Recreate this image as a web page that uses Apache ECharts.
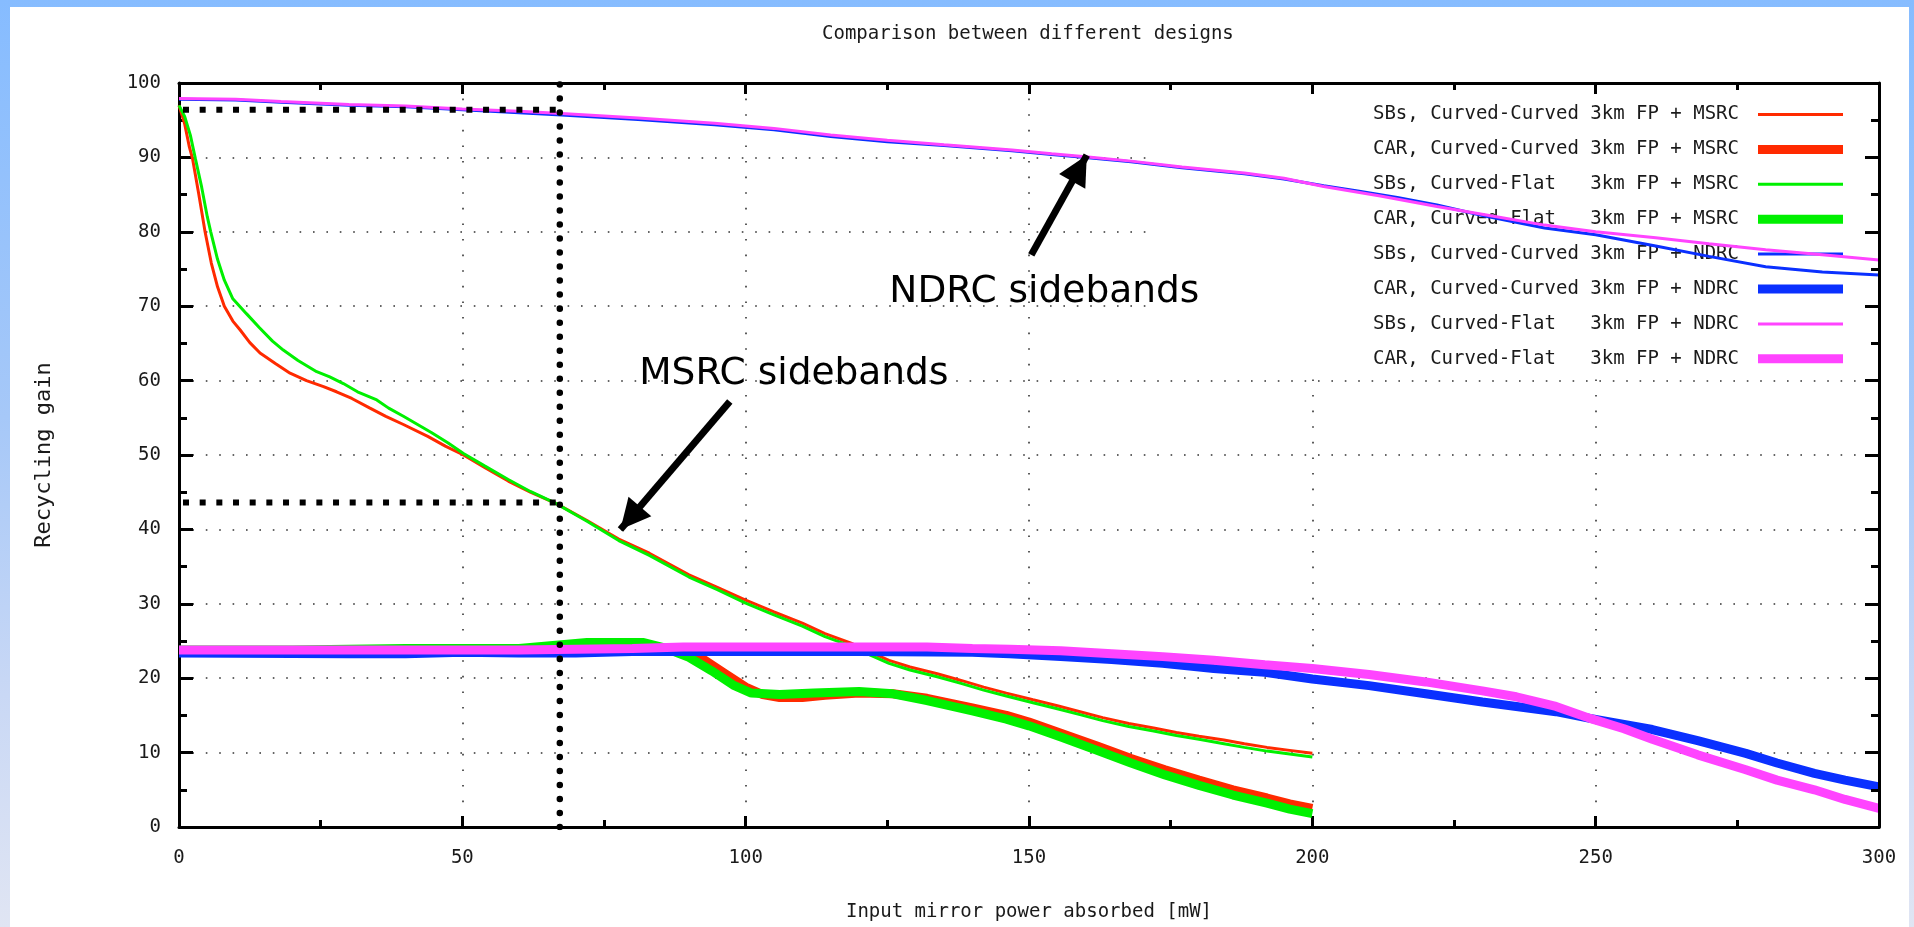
<!DOCTYPE html>
<html>
<head>
<meta charset="utf-8">
<script src="https://cdn.jsdelivr.net/npm/echarts@6/dist/echarts.min.js"></script>
<style>
html,body{margin:0;padding:0;width:1914px;height:927px;overflow:hidden;}
#bg{position:absolute;left:0;top:0;width:1914px;height:927px;background:linear-gradient(to bottom,#86bcff 0%,#a6c8f8 45%,#c9d8f5 75%,#e0e5f3 100%);}
#paper{position:absolute;left:10px;top:7px;right:5px;bottom:0;background:#fff;}
#chart{position:absolute;left:0;top:0;width:1914px;height:927px;}
</style>
</head>
<body>
<div id="bg"></div>
<div id="paper"></div>
<div id="chart"></div>
<script>
// ---------- data ----------
const titleText = 'Comparison between different designs';
const xName = 'Input mirror power absorbed [mW]';
const yName = 'Recycling gain';

const seriesNames = [
  'SBs, Curved-Curved 3km FP + MSRC',
  'CAR, Curved-Curved 3km FP + MSRC',
  'SBs, Curved-Flat   3km FP + MSRC',
  'CAR, Curved-Flat   3km FP + MSRC',
  'SBs, Curved-Curved 3km FP + NDRC',
  'CAR, Curved-Curved 3km FP + NDRC',
  'SBs, Curved-Flat   3km FP + NDRC',
  'CAR, Curved-Flat   3km FP + NDRC'
];
const seriesColors = ['#ff2a00','#ff2a00','#00f000','#00f000','#0a30ff','#0a30ff','#ff44ff','#ff44ff'];
const seriesThick = [false,true,false,true,false,true,false,true];

const sbsCurvedCurvedMsrc = [[0,97.0],[1,94.5],[1.8,91.5],[2.4,89.8],[3.5,85.0],[4.6,80.0],[5.7,75.8],[6.8,72.6],[8.0,70.0],[9.5,68.0],[10.8,66.8],[12.5,65.1],[14.3,63.7],[17,62.3],[19.6,61.0],[22.5,60.0],[25.5,59.2],[27.8,58.5],[30.5,57.6],[33.7,56.3],[36.5,55.2],[39.6,54.1],[43.9,52.5],[47,51.2],[50.2,50.0],[54,48.3],[58.1,46.5],[62,45.0],[66.5,43.5],[72,41.2],[77.6,38.7],[83,36.8],[90,33.9],[95,32.2],[100,30.5],[105,28.9],[110,27.4],[114,26.0],[118.6,24.7],[122,23.5],[125.3,22.4],[129,21.5],[133.8,20.6],[138,19.7],[142,18.8],[146,18.0],[150.7,17.1],[155,16.3],[159,15.5],[163,14.7],[167.6,13.9],[172,13.3],[176,12.7],[180,12.2],[184.4,11.7],[188,11.2],[192,10.7],[196,10.3],[200,9.9]];
const carCurvedCurvedMsrc = [[0,23.6],[20,23.6],[40,23.8],[60,24.0],[80,24.0],[88,23.8],[92,22.8],[96,20.8],[100,18.8],[103,17.8],[106,17.4],[110,17.4],[114,17.7],[120,18.0],[126,17.9],[132,17.3],[140,16.0],[146,15.0],[150,14.1],[156,12.5],[162,10.9],[168,9.2],[174,7.7],[180,6.3],[186,5.0],[192,3.9],[196,3.1],[200,2.5]];
const sbsCurvedFlatMsrc = [[0,97.0],[1,95.5],[2,93.0],[2.9,89.8],[4.0,86.0],[5.0,82.0],[5.6,80.0],[6.8,76.3],[8.0,73.5],[9.5,71.0],[11.9,69.0],[14.2,67.1],[16.5,65.3],[18.4,64.1],[21,62.7],[24.3,61.2],[26.6,60.5],[29,59.6],[31.5,58.5],[34.9,57.4],[37,56.3],[39.6,55.2],[44.6,53.0],[47.5,51.6],[50.2,50.2],[54,48.5],[58.1,46.7],[62,45.1],[66.5,43.5],[72,41.1],[77.6,38.5],[83,36.5],[90,33.6],[95,31.9],[100,30.1],[105,28.5],[110,27.0],[114,25.6],[118.6,24.3],[122,23.1],[125.3,22.0],[129,21.1],[133.8,20.2],[138,19.3],[142,18.4],[146,17.6],[150.7,16.7],[155,15.9],[159,15.1],[163,14.3],[167.6,13.5],[172,12.9],[176,12.3],[180,11.8],[184.4,11.2],[188,10.7],[192,10.2],[196,9.8],[200,9.4]];
const carCurvedFlatMsrc = [[0,23.8],[20,23.8],[40,24.0],[60,24.0],[72,24.8],[82,24.8],[86,24.0],[90,22.8],[94,21.0],[98,19.0],[101,18.0],[106,17.8],[112,18.0],[120,18.2],[126,17.9],[132,17.0],[140,15.6],[146,14.5],[150,13.6],[156,12.0],[162,10.3],[168,8.6],[174,7.0],[180,5.6],[186,4.3],[192,3.2],[196,2.4],[200,1.8]];
const sbsCurvedCurvedNdrc = [[0,97.8],[10,97.7],[18,97.4],[30,97.0],[40,96.8],[50,96.4],[60,96.0],[67.5,95.7],[81,95.1],[94.5,94.4],[105,93.7],[115,92.8],[125,92.1],[135,91.6],[147,90.9],[154,90.4],[160,90.0],[168,89.4],[177,88.6],[188,87.8],[195,87.1],[202,86.2],[208,85.5],[215,84.6],[222,83.6],[230,82.2],[241,80.5],[250,79.6],[260.6,78.1],[270,76.7],[280,75.3],[290,74.6],[300,74.2]];
const carCurvedCurvedNdrc = [[0,23.4],[30,23.3],[40,23.3],[50,23.5],[60,23.4],[70,23.4],[80,23.6],[100,23.6],[120,23.6],[140,23.5],[146.6,23.3],[155.6,22.9],[164.6,22.5],[173.6,22.0],[182.6,21.3],[191.6,20.8],[200,19.9],[210,19.0],[220,17.9],[230,16.8],[236,16.2],[243,15.5],[249,14.6],[255,13.8],[260,13.1],[268,11.6],[276.5,9.9],[282,8.6],[288.6,7.2],[294,6.3],[300,5.4]];
const sbsCurvedFlatNdrc = [[0,97.9],[10,97.8],[18,97.5],[30,97.1],[40,96.9],[50,96.5],[60,96.2],[67.5,95.9],[81,95.3],[94.5,94.6],[105,93.9],[115,93.0],[125,92.3],[135,91.7],[147,91.0],[154,90.5],[160,90.1],[168,89.5],[177,88.7],[188,87.9],[195,87.2],[202,86.1],[212,84.8],[222,83.4],[232,82.1],[241,80.9],[250,80.0],[260.6,79.2],[270,78.4],[280,77.6],[290,76.9],[300,76.2]];
const carCurvedFlatNdrc = [[0,23.8],[20,23.8],[40,23.8],[60,23.8],[80,24.0],[89,24.2],[100,24.2],[120,24.2],[132,24.2],[140,24.0],[146.6,23.9],[155.6,23.7],[164.6,23.3],[173.6,22.9],[182.6,22.4],[191.6,21.8],[200,21.3],[210,20.5],[220,19.5],[230,18.3],[236,17.5],[243,16.2],[249,14.6],[255,13.2],[260,11.8],[268,9.7],[276.5,7.7],[282,6.3],[288.6,5.0],[294,3.7],[300,2.5]];

const seriesData = [sbsCurvedCurvedMsrc, carCurvedCurvedMsrc, sbsCurvedFlatMsrc, carCurvedFlatMsrc,
                    sbsCurvedCurvedNdrc, carCurvedCurvedNdrc, sbsCurvedFlatNdrc, carCurvedFlatNdrc];

// reference (operating point) lines
const refUpper = [[0,96.4],[67.2,96.4]];
const refLower = [[0,43.6],[67.2,43.6]];
const refVertical = [[67.2,0],[67.2,100]];

// annotations
const arrowNdrc = [[150.4,76.9],[160.2,90.3]];
const arrowMsrc = [[97.2,57.2],[77.9,40.0]];
const labelNdrc = {text:'NDRC sidebands', at:[152.7,71.9]};
const labelMsrc = {text:'MSRC sidebands', at:[108.5,60.9]};

// ---------- chart ----------
const MONO = '"DejaVu Sans Mono", "Liberation Mono", monospace';
const TXT = '#1a1a1a';
const thinIcon = 'path://M0,0 M99,12 M14,4.5 h85 v3 h-85 z';
const thickIcon = 'path://M0,0 M99,12 M14,1.5 h85 v9 h-85 z';

const chart = echarts.init(document.getElementById('chart'), null, {renderer:'canvas'});

const dataSeries = seriesNames.map((n,i)=>({
  name:n, type:'line', data:seriesData[i], xAxisIndex:0, yAxisIndex:0,
  showSymbol:false, symbol:'none', smooth:false, z:2, silent:true,
  color:seriesColors[i],
  itemStyle:{color:seriesColors[i]},
  lineStyle:{color:seriesColors[i], width: seriesThick[i]?9:3, cap:'butt', join:'bevel'}
}));

function refSeries(name, data, style){
  return {name, type:'line', data, showSymbol:false, symbol:'none', z:3, silent:true,
    lineStyle:Object.assign({color:'#000'}, style)};
}

const axisCommon = {
  type:'value', axisLine:{show:true, onZero:false, lineStyle:{color:'#000', width:3}},
  axisTick:{show:true, inside:true, lineStyle:{color:'#000', width:3}},
  minorTick:{show:true, splitNumber:2, lineStyle:{color:'#000', width:3}}
};

const option = {
  animation:false,
  backgroundColor:'transparent',
  title:{text:titleText, left:822, top:23, padding:0,
    textStyle:{fontFamily:MONO, fontSize:19, fontWeight:'normal', color:TXT, lineHeight:22}},
  grid:{left:179, right:35, top:83, bottom:100, containLabel:false},
  legend:{
    orient:'vertical', align:'right', right:35, top:83, z:1,
    backgroundColor:'#fff', padding:[21.5,36,8,223],
    itemWidth:99, itemHeight:12, itemGap:14.9, selectedMode:false,
    textStyle:{fontFamily:MONO, fontSize:19, color:TXT, lineHeight:20},
    data: seriesNames.map((n,i)=>({name:n, icon: seriesThick[i]?thickIcon:thinIcon,
      itemStyle:{color:seriesColors[i], borderWidth:0}}))
  },
  xAxis:[
    Object.assign({}, axisCommon, {position:'bottom', min:0, max:300, interval:50, z:0,
      axisTick:{show:true, inside:true, length:11, lineStyle:{color:'#000', width:3}},
      minorTick:{show:true, splitNumber:2, length:7, lineStyle:{color:'#000', width:3}},
      splitLine:{show:true, lineStyle:{color:'#333', width:1.6, type:[1.6,14]}},
      axisLabel:{fontFamily:MONO, fontSize:19, color:TXT, margin:22},
      name:xName, nameLocation:'middle', nameGap:76,
      nameTextStyle:{fontFamily:MONO, fontSize:19, color:TXT}}),
    Object.assign({}, axisCommon, {position:'top', min:0, max:300, interval:50, z:5,
      axisTick:{show:true, inside:true, length:11, lineStyle:{color:'#000', width:3}},
      minorTick:{show:true, splitNumber:2, length:7, lineStyle:{color:'#000', width:3}},
      splitLine:{show:false}, axisLabel:{show:false}})
  ],
  yAxis:[
    Object.assign({}, axisCommon, {position:'left', min:0, max:100, interval:10, z:0,
      axisTick:{show:true, inside:true, length:14, lineStyle:{color:'#000', width:3}},
      minorTick:{show:true, splitNumber:2, length:8, lineStyle:{color:'#000', width:3}},
      splitLine:{show:true, lineStyle:{color:'#333', width:1.6, type:[1.6,11.8]}},
      axisLabel:{fontFamily:MONO, fontSize:19, color:TXT, margin:18},
      name:yName, nameLocation:'middle', nameGap:124,
      nameTextStyle:{fontFamily:MONO, fontSize:22, color:TXT}}),
    Object.assign({}, axisCommon, {position:'right', min:0, max:100, interval:10, z:5,
      axisTick:{show:true, inside:true, length:14, lineStyle:{color:'#000', width:3}},
      minorTick:{show:true, splitNumber:2, length:8, lineStyle:{color:'#000', width:3}},
      splitLine:{show:false}, axisLabel:{show:false}})
  ],
  series: dataSeries.concat([
    refSeries('refUpper', refUpper, {width:6, type:[6,10.67], dashOffset:12.67, cap:'butt'}),
    refSeries('refLower', refLower, {width:6, type:[6,10.67], dashOffset:12.67, cap:'butt'}),
    refSeries('refVertical', refVertical, {width:6.5, type:[0.01,14], cap:'round'}),
    {
      name:'annotations', type:'line', data:[], z:4, silent:true,
      markLine:{
        silent:true, animation:false,
        symbol:['none','triangle'], symbolSize:30, symbolOffset:[0,[0,15]],
        label:{show:false},
        itemStyle:{color:'#000'},
        lineStyle:{color:'#000', width:7, type:'solid'},
        emphasis:{disabled:true},
        data:[
          [{coord:arrowNdrc[0]},{coord:arrowNdrc[1]}],
          [{coord:arrowMsrc[0]},{coord:arrowMsrc[1]}]
        ]
      },
      markPoint:{
        silent:true, symbol:'circle', symbolSize:1,
        itemStyle:{color:'rgba(0,0,0,0)'},
        label:{show:true, position:'inside', color:'#000', fontFamily:'"DejaVu Sans", Verdana, sans-serif', fontSize:37.5, formatter:'{b}'},
        data:[
          {name:labelNdrc.text, coord:labelNdrc.at},
          {name:labelMsrc.text, coord:labelMsrc.at}
        ]
      }
    }
  ])
};
chart.setOption(option);
</script>
</body>
</html>
